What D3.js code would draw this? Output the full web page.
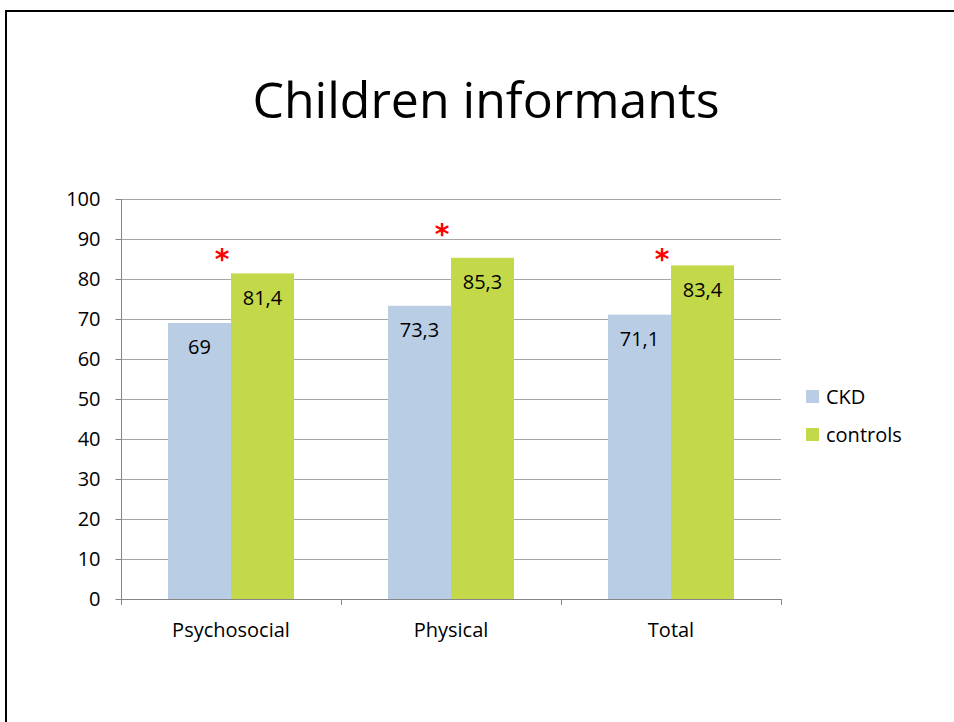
<!DOCTYPE html>
<html>
<head>
<meta charset="utf-8">
<script src="https://cdn.jsdelivr.net/npm/d3@7/dist/d3.min.js"></script>
<style>
  html, body { margin: 0; padding: 0; background: #fff; }
  svg { display: block; font-family: "Open Sans", Lato, sans-serif; }
</style>
</head>
<body>
<svg id="chart" width="954" height="722"></svg>
<script>
const categories = ["Psychosocial", "Physical", "Total"];
const seriesNames = ["CKD", "controls"];
const ckdValues = [69, 73.3, 71.1];
const controlValues = [81.4, 85.3, 83.4];
const valueLabels = [["69", "81,4"], ["73,3", "85,3"], ["71,1", "83,4"]];
const asteriskLevels = [86.3, 92.5, 86.3];
const yTicks = [0, 10, 20, 30, 40, 50, 60, 70, 80, 90, 100];
const colors = ["#B9CDE5", "#C4D94A"];

(function () {
const svg = d3.select("#chart");
const FONT = "'Open Sans', Lato, sans-serif";

// slide frame
svg.append("line").attr("x1", 5).attr("x2", 954).attr("y1", 11).attr("y2", 11)
  .attr("stroke", "#000").attr("stroke-width", 2);
svg.append("line").attr("x1", 6).attr("x2", 6).attr("y1", 10).attr("y2", 722)
  .attr("stroke", "#000").attr("stroke-width", 2);

// title
svg.append("text").attr("x", 486).attr("y", 118).attr("text-anchor", "middle")
  .attr("font-size", 50).attr("fill", "#000").text("Children informants");

const pLeft = 121, pRight = 781, pTop = 199, pBottom = 599;
const x = d3.scaleBand().domain(categories).range([pLeft, pRight]).paddingInner(0).paddingOuter(0);
const sub = d3.scaleBand().domain(seriesNames).range([0, x.bandwidth()]).paddingOuter(0.746).paddingInner(0);
const y = d3.scaleLinear().domain([0, 100]).range([pBottom, pTop]);

// gridlines
svg.append("g").selectAll("line").data(yTicks.filter(d => d > 0)).join("line")
  .attr("x1", pLeft).attr("x2", pRight)
  .attr("y1", d => Math.round(y(d)) + 0.5).attr("y2", d => Math.round(y(d)) + 0.5)
  .attr("stroke", "#A6A6A6").attr("stroke-width", 1);

// bars
const data = categories.map((c, i) => ({ cat: c, vals: [ckdValues[i], controlValues[i]], labels: valueLabels[i], ast: asteriskLevels[i] }));
const groups = svg.append("g").selectAll("g").data(data).join("g")
  .attr("transform", d => `translate(${x(d.cat)},0)`);
groups.selectAll("rect").data(d => d.vals.map((v, j) => ({ v, s: seriesNames[j], j }))).join("rect")
  .attr("x", d => sub(d.s)).attr("width", sub.bandwidth())
  .attr("y", d => y(d.v)).attr("height", d => y(0) - y(d.v))
  .attr("fill", d => colors[d.j]);

// value labels
groups.selectAll("text.val").data(d => d.vals.map((v, j) => ({ v, s: seriesNames[j], lab: d.labels[j] }))).join("text")
  .attr("class", "val")
  .attr("x", d => sub(d.s) + sub.bandwidth() / 2)
  .attr("y", d => y(d.v) + 24)
  .attr("dy", "0.36em").attr("text-anchor", "middle")
  .attr("font-size", 20).attr("fill", "#000").text(d => d.lab);

// asterisks
groups.append("text")
  .attr("x", d => sub("controls") - 9)
  .attr("y", d => y(d.ast))
  .attr("dy", "0.55em").attr("text-anchor", "middle")
  .attr("font-size", 28).attr("font-weight", "bold").attr("fill", "#FF0000")
  .attr("font-family", "'DejaVu Sans', sans-serif")
  .text("*");

// y axis
const yAxis = svg.append("g").attr("transform", `translate(${pLeft + 0.5},0)`)
  .call(d3.axisLeft(y).tickValues(yTicks).tickSize(6).tickPadding(15).tickFormat(d3.format("d")));
yAxis.select(".domain").attr("stroke", "#868686").attr("d", `M0,${pTop}V${pBottom}`);
yAxis.selectAll(".tick line").attr("stroke", "#868686");
yAxis.selectAll(".tick text").attr("font-size", 20).attr("fill", "#000")
  .attr("font-family", FONT);

// x axis
const xAxis = svg.append("g").attr("transform", `translate(0,${pBottom + 0.5})`)
  .call(d3.axisBottom(x).tickSize(0).tickPadding(23));
xAxis.select(".domain").attr("stroke", "#868686").attr("d", `M${pLeft},0H${pRight}`);
xAxis.selectAll(".tick text").attr("font-size", 20).attr("fill", "#000")
  .attr("font-family", FONT);
svg.append("g").selectAll("line").data([pLeft, ...categories.map(c => x(c) + x.bandwidth())]).join("line")
  .attr("x1", d => Math.round(d) + 0.5).attr("x2", d => Math.round(d) + 0.5)
  .attr("y1", pBottom).attr("y2", pBottom + 6)
  .attr("stroke", "#868686");

// legend
const legend = svg.append("g").selectAll("g").data(seriesNames).join("g")
  .attr("transform", (d, i) => `translate(806,${390 + i * 38})`);
legend.append("rect").attr("width", 13).attr("height", 13).attr("fill", (d, i) => colors[i]);
legend.append("text").attr("x", 20).attr("y", 7).attr("dy", "0.36em")
  .attr("font-size", 20).attr("fill", "#000").text(d => d);
})();
</script>
</body>
</html>
